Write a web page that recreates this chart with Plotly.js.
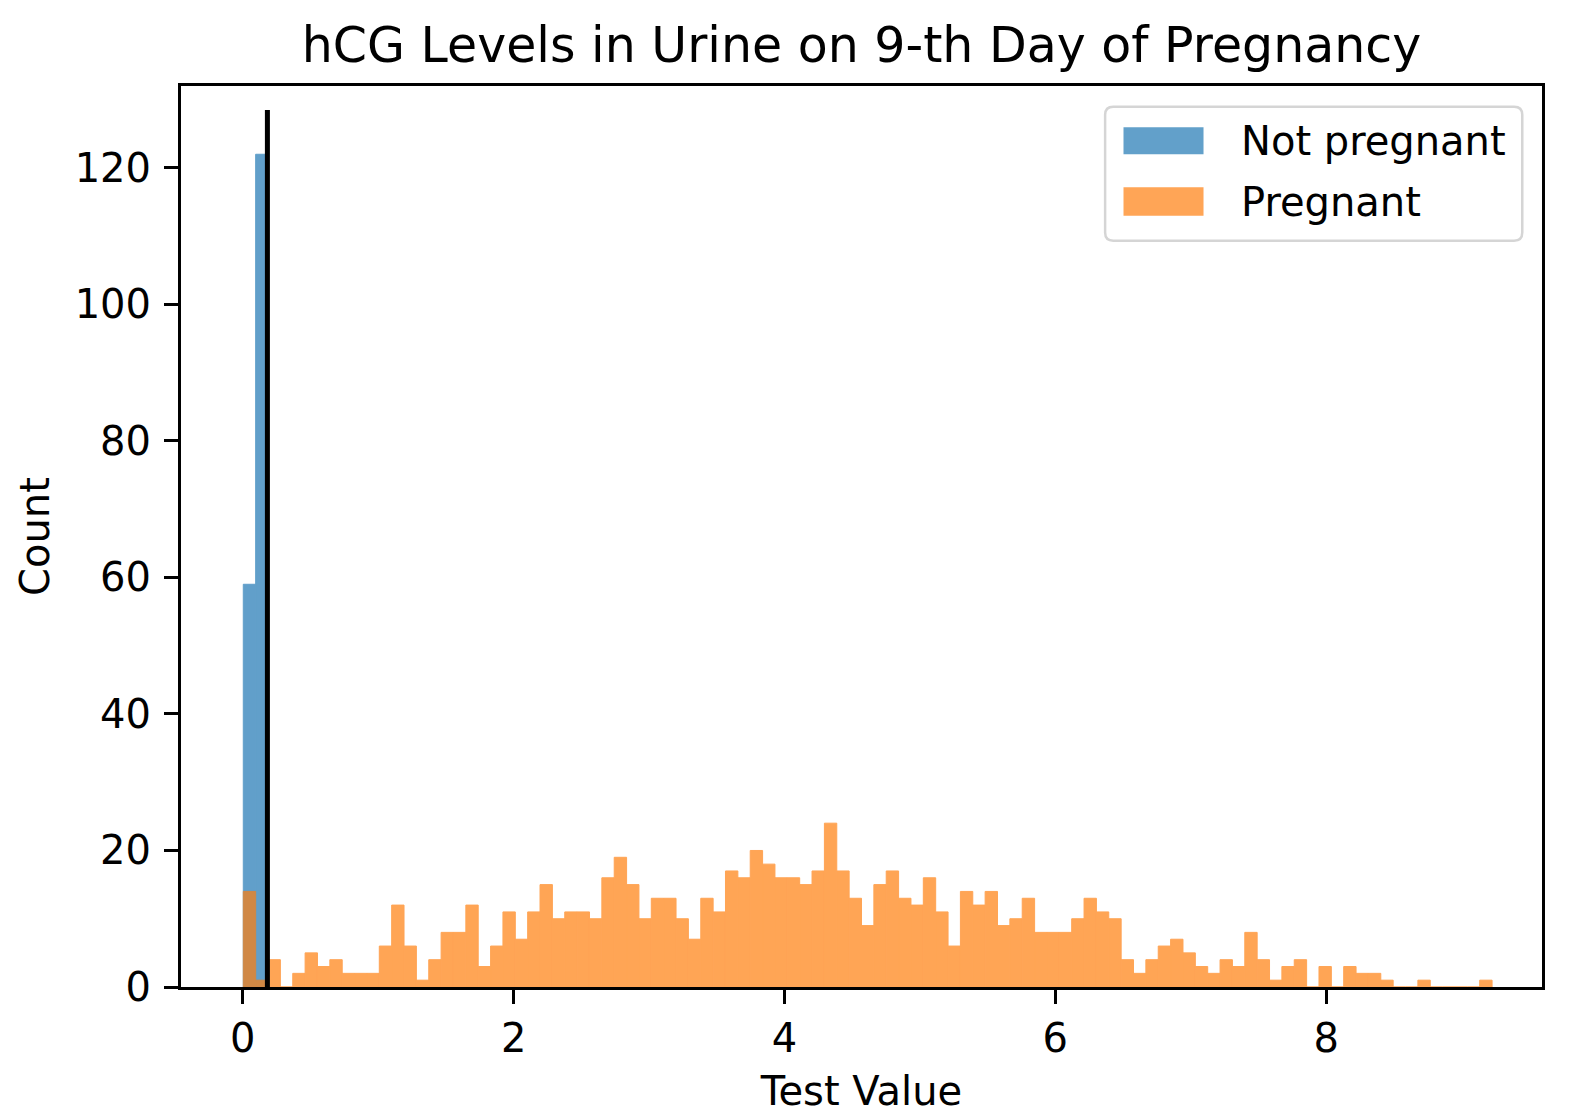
<!DOCTYPE html>
<html>
<head>
<meta charset="utf-8">
<script src="https://cdn.plot.ly/plotly-3.0.1.min.js"></script>
<style>
  body { margin: 0; background: #fff; }
  #chart { width: 1576px; height: 1120px; }
</style>
</head>
<body>
<div id="chart"></div>
<script>
// Histogram bin grid, shared by both groups
const binStart = 0.004;
const binWidth = 0.0913;

// Counts per bin
const notPregnantCounts = [59, 122];
const pregnantCounts = [
  14, 1, 4, 0, 2, 5, 3, 4, 2, 2,
  2, 6, 12, 6, 1, 4, 8, 8, 12, 3,
  6, 11, 7, 11, 15, 10, 11, 11, 10, 16,
  19, 15, 10, 13, 13, 10, 7, 13, 11, 17,
  16, 20, 18, 16, 16, 15, 17, 24, 17, 13,
  9, 15, 17, 13, 12, 16, 11, 6, 14, 12,
  14, 9, 10, 13, 8, 8, 8, 10, 13, 11,
  10, 4, 2, 4, 6, 7, 5, 3, 2, 4,
  3, 8, 4, 1, 3, 4, 0, 3, 0, 3,
  2, 2, 1, 0, 0, 1, 0, 0, 0, 0,
  1
];

// Cut-off line
const threshold = 0.182;
const thresholdTop = 128.5;

const xTicks = [0, 2, 4, 6, 8];
const yTicks = [0, 20, 40, 60, 80, 100, 120];

const seriesNames = ["Not pregnant", "Pregnant"];
const blue = "#1f77b4";
const orange = "#ff7f0e";
const alpha = 0.7;
// legend patches are single shapes, so rgba is fine there
const blueA = "rgba(31,119,180,0.7)";
const orangeA = "rgba(255,127,14,0.7)";

const binCenters = counts => counts.map((_, i) => binStart + (i + 0.5) * binWidth);

const FONT = "DejaVu Sans, sans-serif";

// opaque bars + outline of same colour, alpha on the whole trace -> no seams
const data = [
  {
    type: "bar",
    name: seriesNames[0],
    x: binCenters(notPregnantCounts),
    y: notPregnantCounts,
    width: binWidth,
    opacity: alpha,
    marker: { color: blue, line: { color: blue, width: 1 } },
    showlegend: false
  },
  {
    type: "bar",
    name: seriesNames[1],
    x: binCenters(pregnantCounts),
    y: pregnantCounts,
    width: binWidth,
    opacity: alpha,
    marker: { color: orange, line: { color: orange, width: 1 } },
    showlegend: false
  },
  {
    type: "scatter",
    mode: "lines",
    x: [threshold, threshold],
    y: [0, thresholdTop],
    line: { color: "#000", width: 5 },
    showlegend: false,
    hoverinfo: "skip"
  }
];

// hand-made legend in paper coords (matplotlib style)
const lx0 = 0.679, lx1 = 0.9855, ly0 = 0.8283, ly1 = 0.977;
const rx = 0.006, ry = 0.009;
const framePath =
  `M${lx0 + rx},${ly0} L${lx1 - rx},${ly0} Q${lx1},${ly0} ${lx1},${ly0 + ry} ` +
  `L${lx1},${ly1 - ry} Q${lx1},${ly1} ${lx1 - rx},${ly1} L${lx0 + rx},${ly1} ` +
  `Q${lx0},${ly1} ${lx0},${ly1 - ry} L${lx0},${ly0 + ry} Q${lx0},${ly0} ${lx0 + rx},${ly0} Z`;

const shapes = [
  { type: "path", xref: "paper", yref: "paper", path: framePath,
    line: { color: "#d5d5d5", width: 2.5 }, fillcolor: "rgba(255,255,255,0.8)" },
  { type: "rect", xref: "paper", yref: "paper", x0: 0.6925, x1: 0.7513, y0: 0.9242, y1: 0.9541,
    line: { width: 0 }, fillcolor: blueA },
  { type: "rect", xref: "paper", yref: "paper", x0: 0.6925, x1: 0.7513, y0: 0.8560, y1: 0.8875,
    line: { width: 0 }, fillcolor: orangeA }
];

const annotations = [
  { xref: "paper", yref: "paper", x: 0.7771, y: 0.9392, xanchor: "left", yanchor: "middle",
    text: seriesNames[0], showarrow: false, font: { family: FONT, size: 40, color: "#000" } },
  { xref: "paper", yref: "paper", x: 0.7771, y: 0.8718, xanchor: "left", yanchor: "middle",
    text: seriesNames[1], showarrow: false, font: { family: FONT, size: 40, color: "#000" } }
];

const axisCommon = {
  showline: true,
  mirror: true,
  linecolor: "#000",
  linewidth: 3,
  ticks: "outside",
  ticklen: 14,
  tickwidth: 3,
  tickcolor: "#000",
  showgrid: false,
  zeroline: false,
  tickfont: { family: FONT, size: 40, color: "#000" }
};

const layout = {
  width: 1576,
  height: 1120,
  margin: { l: 181, r: 34, t: 86, b: 133, pad: 0 },
  paper_bgcolor: "#fff",
  plot_bgcolor: "#fff",
  barmode: "overlay",
  hovermode: false,
  font: { family: FONT, color: "#000" },
  title: {
    text: "hCG Levels in Urine on 9-th Day of Pregnancy",
    font: { family: FONT, size: 49, color: "#000" },
    xref: "paper", x: 0.5, xanchor: "center",
    yref: "container", y: 0.9446, yanchor: "bottom"
  },
  xaxis: Object.assign({}, axisCommon, {
    range: [-0.456, 9.594],
    tickvals: xTicks,
    ticktext: xTicks.map(String),
    ticklabelstandoff: 0,
    title: { text: "Test Value", font: { family: FONT, size: 40, color: "#000" }, standoff: 17 }
  }),
  yaxis: Object.assign({}, axisCommon, {
    range: [0, 132],
    tickvals: yTicks,
    ticktext: yTicks.map(String),
    ticklabelstandoff: 5,
    title: { text: "Count", font: { family: FONT, size: 40, color: "#000" }, standoff: 13 }
  }),
  shapes: shapes,
  annotations: annotations
};

Plotly.newPlot("chart", data, layout, { displayModeBar: false, staticPlot: true });
</script>
</body>
</html>
